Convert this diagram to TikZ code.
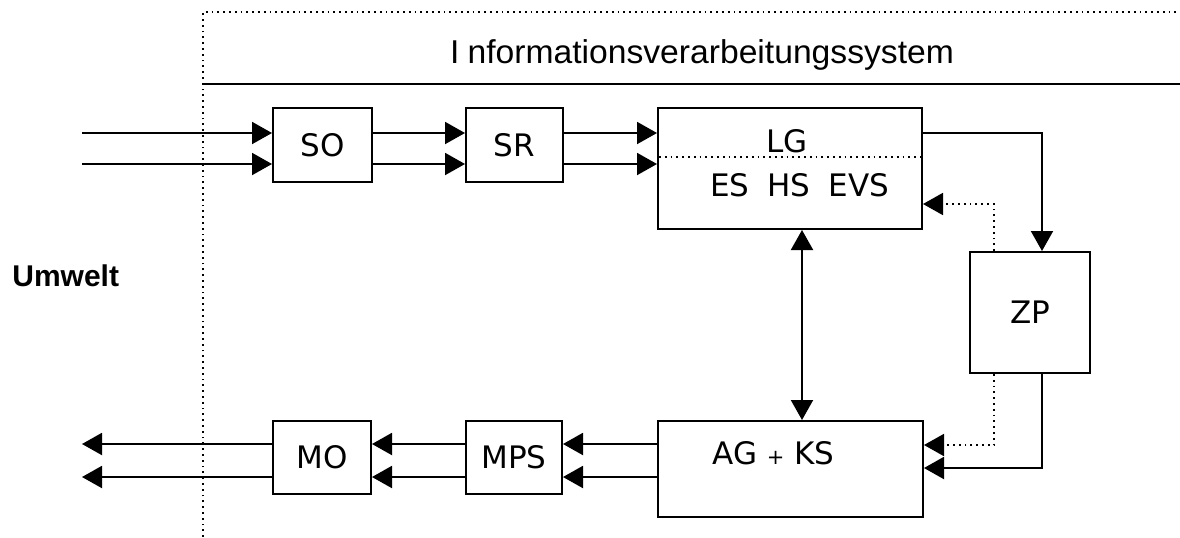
\documentclass[tikz,border=0pt]{standalone}
\usepackage{fontspec}
\setmainfont{DejaVu Sans}
\newfontfamily\titlefont{Liberation Sans}
\newfontfamily\umfont{Liberation Sans}
\usetikzlibrary{arrows.meta}
\tikzset{
  box/.style={draw, line width=1pt, inner sep=0pt, font=\fontsize{15.5}{18}\selectfont},
  conn/.style={line width=1pt, -{Triangle[length=10pt,width=11pt]}},
  dconn/.style={line width=1pt, {Triangle[length=10pt,width=11pt]}-{Triangle[length=10pt,width=11pt]}},
  dotconn/.style={line width=0.9pt, dotted, -{Triangle[length=10pt,width=11pt]}},
  plain/.style={line width=1pt},
  dotplain/.style={line width=0.9pt, dotted},
  lbl/.style={inner sep=0pt, font=\fontsize{15.5}{18}\selectfont}
}
\begin{document}
\begin{tikzpicture}[x=0.5pt, y=-0.5pt]
\useasboundingbox (0,0) rectangle (1180,537);
% system boundary
\coordinate (bl) at (203,537);
\coordinate (tl) at (203,12);
\coordinate (tr) at (1180,12);
\coordinate (sl) at (203,84);
\coordinate (sr) at (1180,84);
\draw[dotplain] (bl) -- (tl) -- (tr);
\draw[line width=1.4pt] (sl) -- (sr);
\node[inner sep=0pt, anchor=base, font=\titlefont\fontsize{16.5}{19}\selectfont] (title) at (702,63)
  {\scalebox{1.02}[1]{I\kern4pt nformationsverarbeitungssystem}};
\node[inner sep=0pt, anchor=base west, font=\umfont\bfseries\fontsize{15}{18}\selectfont] (umwelt) at (12,286) {Umwelt};
% boxes
\node[box, minimum width=49.5pt, minimum height=37pt] (SO) at (322.5,145) {SO};
\node[box, minimum width=48.5pt, minimum height=37pt] (SR) at (514.5,145) {SR};
\node[box, minimum width=132pt, minimum height=60.5pt] (LG) at (790,168.5) {};
\node[lbl, anchor=base] (lgt) at (787,152) {LG};
\node[lbl, anchor=base west] (lgb) at (710,196) {ES\hspace{9pt}HS\hspace{9pt}EVS};
\coordinate (dl) at (659,157);
\coordinate (dr) at (921,157);
\draw[dotplain, line width=0.8pt] (dl) -- (dr);
\node[box, minimum width=60pt, minimum height=60.5pt] (ZP) at (1030,312.5) {ZP};
\node[box, minimum width=132.5pt, minimum height=48pt] (AG) at (790.5,469) {};
\node[lbl, anchor=base west] (agt) at (712,464) {AG {\fontsize{10.5}{12}\selectfont +} KS};
\node[box, minimum width=48pt, minimum height=36.5pt] (MPS) at (514,457.5) {MPS};
\node[box, minimum width=49pt, minimum height=36.5pt] (MO) at (322,457.5) {MO};
% input connectors
\coordinate (in1) at (82,133);
\coordinate (in2) at (82,164);
\draw[conn] (in1) -- (in1 -| SO.west);
\draw[conn] (in2) -- (in2 -| SO.west);
\draw[conn] (SO.east |- in1) -- (SR.west |- in1);
\draw[conn] (SO.east |- in2) -- (SR.west |- in2);
\draw[conn] (SR.east |- in1) -- (LG.west |- in1);
\draw[conn] (SR.east |- in2) -- (LG.west |- in2);
% LG -> ZP
\coordinate (zx) at (1042,0);
\coordinate (zd) at (994,0);
\draw[conn] (LG.east |- in1) -| (zx |- ZP.north);
\coordinate (fb1) at (994,204);
\draw[dotconn] (zd |- ZP.north) -- (fb1) -- (fb1 -| LG.east);
% ZP -> AG
\coordinate (o1) at (0,444);
\coordinate (o2) at (0,477);
\coordinate (fb2) at (994,445);
\coordinate (fb3) at (1042,468);
\draw[dotconn] (zd |- ZP.south) -- (fb2) -- (fb2 -| AG.east);
\draw[conn] (zx |- ZP.south) -- (fb3) -- (fb3 -| AG.east);
% LG <-> AG
\coordinate (vx) at (802,0);
\draw[dconn] (vx |- LG.south) -- (vx |- AG.north);
% outputs
\draw[conn] (AG.west |- o1) -- (MPS.east |- o1);
\draw[conn] (AG.west |- o2) -- (MPS.east |- o2);
\draw[conn] (MPS.west |- o1) -- (MO.east |- o1);
\draw[conn] (MPS.west |- o2) -- (MO.east |- o2);
\coordinate (out1) at (82,444);
\coordinate (out2) at (82,477);
\draw[conn] (MO.west |- o1) -- (out1);
\draw[conn] (MO.west |- o2) -- (out2);
\end{tikzpicture}
\end{document}
